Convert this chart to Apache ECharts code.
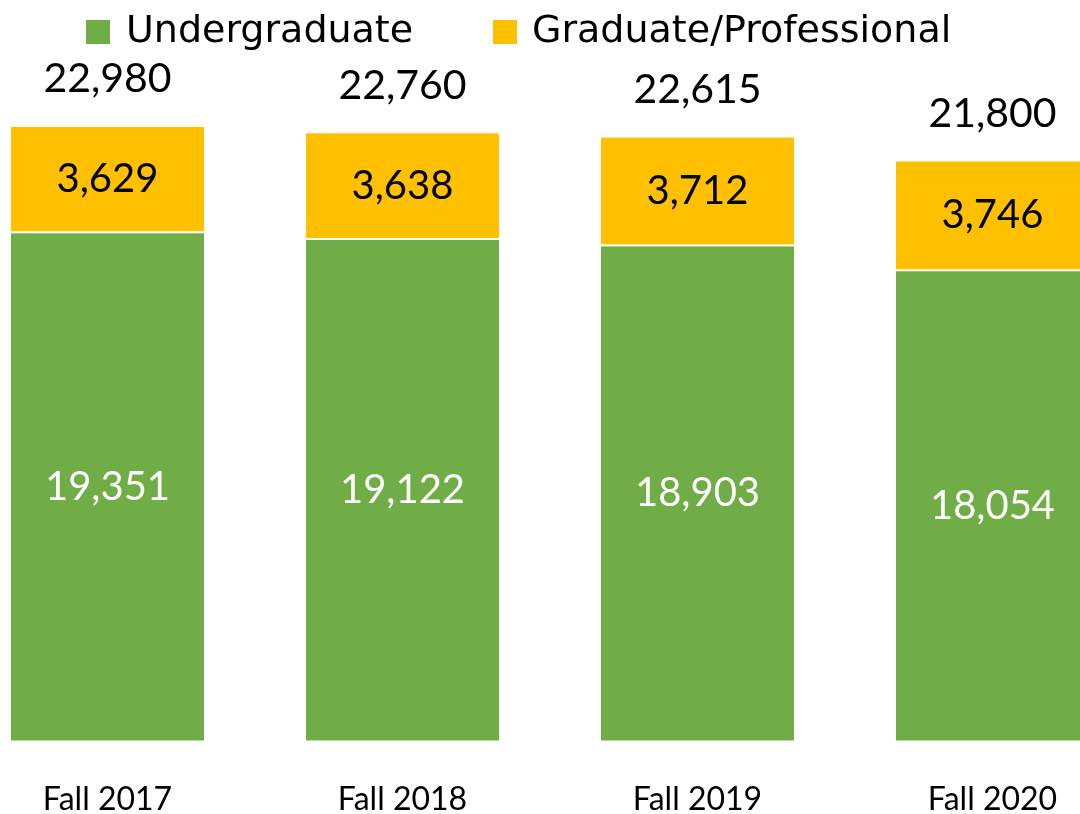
<!DOCTYPE html>
<html>
<head>
<meta charset="utf-8">
<script src="https://cdn.jsdelivr.net/npm/echarts@6/dist/echarts.min.js"></script>
<style>
  html, body { margin: 0; padding: 0; background: #fff; }
  #chart { width: 1080px; height: 814px; }
</style>
</head>
<body>
<div id="chart"></div>
<script>
const categories = ['Fall 2017', 'Fall 2018', 'Fall 2019', 'Fall 2020'];
const undergraduate = [19351, 19122, 18903, 18054];
const graduate = [3629, 3638, 3712, 3746];
const totals = [22980, 22760, 22615, 21800];

function fmt(v) {
  return String(v).replace(/\B(?=(\d{3})+(?!\d))/g, ',');
}

const numFont = 'Lato';
const chart = echarts.init(document.getElementById('chart'), null, { renderer: 'canvas' });
chart.setOption({
  animation: false,
  backgroundColor: '#ffffff',
  legend: [
    {
      data: ['Undergraduate'],
      left: 79, top: 8,
      icon: 'rect', itemWidth: 26, itemHeight: 26,
      textStyle: { fontFamily: 'DejaVu Sans', fontSize: 38, color: '#000', lineHeight: 26, padding: [0, 0, 0, 10] }
    },
    {
      data: ['Graduate/Professional'],
      left: 486, top: 8,
      icon: 'rect', itemWidth: 26, itemHeight: 26,
      textStyle: { fontFamily: 'DejaVu Sans', fontSize: 38, color: '#000', lineHeight: 26, padding: [0, 0, 0, 9] }
    }
  ],
  grid: { left: -40, top: 96, width: 1180, height: 645, outerBoundsMode: 'none', containLabel: false },
  xAxis: {
    type: 'category',
    data: categories,
    axisLine: { show: false },
    axisTick: { show: false },
    axisLabel: { fontFamily: numFont, fontSize: 32, color: '#000', margin: 43 }
  },
  yAxis: {
    type: 'value',
    min: 2000,
    max: 24000,
    show: false,
    splitLine: { show: false }
  },
  series: [
    {
      name: 'Undergraduate',
      type: 'bar',
      stack: 'total',
      barWidth: 195,
      data: undergraduate,
      itemStyle: { color: '#70AD47', borderColor: '#ffffff', borderWidth: 1 },
      label: {
        show: true, position: 'inside',
        fontFamily: numFont, fontSize: 40, color: '#ffffff',
        formatter: p => fmt(p.value)
      }
    },
    {
      name: 'Graduate/Professional',
      type: 'bar',
      stack: 'total',
      barWidth: 195,
      data: graduate,
      itemStyle: { color: '#FFC000', borderColor: '#ffffff', borderWidth: 1 },
      label: {
        show: true, position: 'inside',
        fontFamily: numFont, fontSize: 40, color: '#000000',
        formatter: p => fmt(p.value)
      }
    },
    {
      name: 'Total',
      type: 'scatter',
      data: totals,
      symbolSize: 0,
      silent: true,
      z: 5,
      itemStyle: { opacity: 1 },
      label: {
        show: true, position: 'inside', offset: [0, -47],
        fontFamily: numFont, fontSize: 41, color: '#000000',
        formatter: p => fmt(p.value)
      }
    }
  ]
});
</script>
</body>
</html>
